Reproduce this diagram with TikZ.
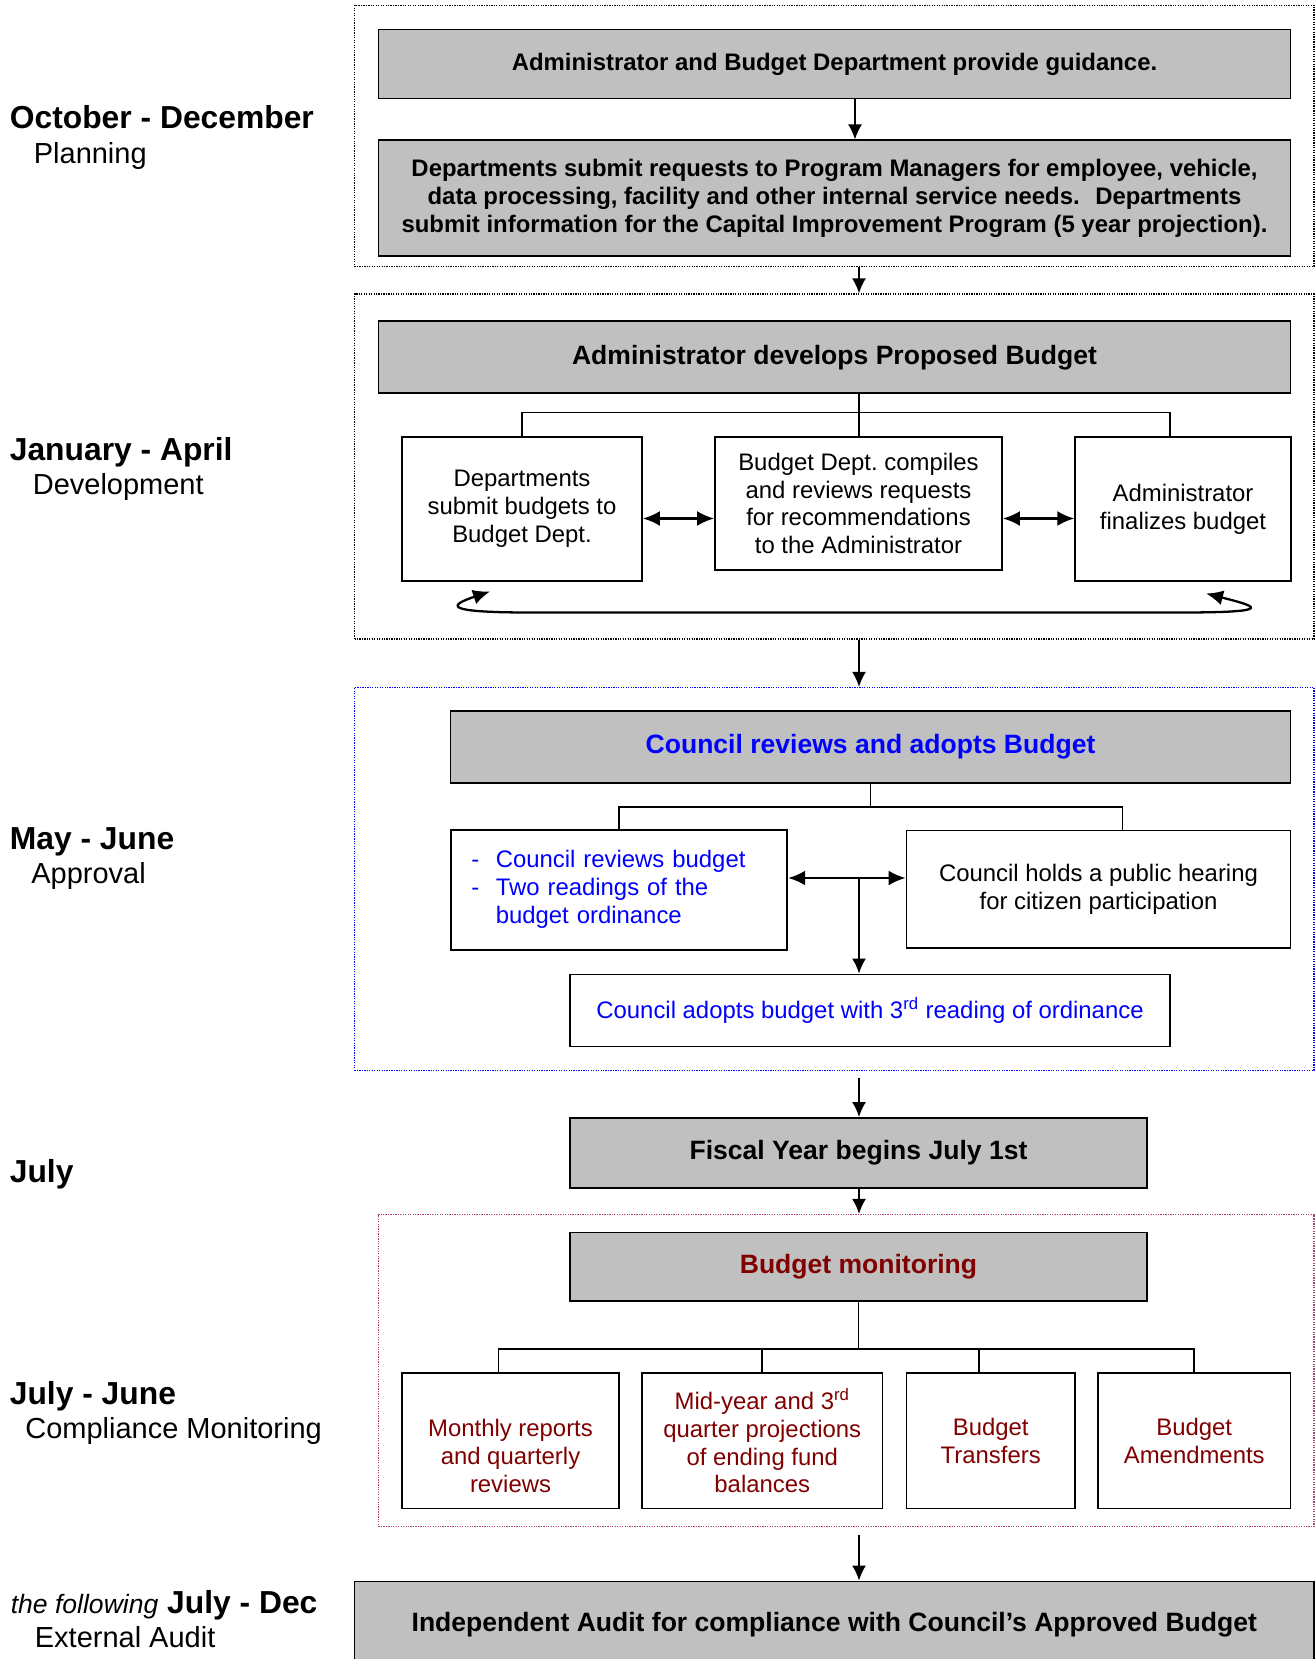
\documentclass[tikz,border=0pt]{standalone}
\usepackage{fontspec}
\setmainfont{Liberation Sans}
\usepackage{tikz}
\usetikzlibrary{
	positioning,
	calc,
	arrows.meta
}
\definecolor{BudgetGray}{RGB}{192,192,192}
\definecolor{BudgetBlue}{RGB}{0,0,255}
\definecolor{BudgetRed}{RGB}{128,0,0}
\definecolor{BudgetPink}{RGB}{180,60,125}
\newcommand{\boxtext}{\fontsize{13.6}{15.8}\selectfont}
\newcommand{\headtext}{\bfseries\fontsize{15.1}{18}\selectfont}

\tikzset{
	graybox/.style={draw, line width=1.1pt, fill=BudgetGray, align=center, inner sep=0pt},
	whitebox/.style={draw, line width=1.1pt, fill=white, align=center, inner sep=0pt, font=\boxtext},
	frame/.style={draw, line width=0.7pt, dash pattern=on 0.7pt off 0.7pt, inner sep=0pt},
	flow/.style={-{Latex[length=0.3cm,width=0.28cm]}, line width=1pt},
	twoway/.style={{Latex[length=0.34cm,width=0.3cm]}-{Latex[length=0.34cm,width=0.3cm]}, line width=1.3pt},
	branch/.style={line width=0.9pt},
	period/.style={anchor=base west, inner sep=0pt, font=\bfseries\fontsize{18.1}{21}\selectfont},
	phase/.style={anchor=base west, inner sep=0pt, font=\fontsize{16.5}{19}\selectfont}
}

\begin{document}
\begin{tikzpicture}
				
				\path[use as bounding box, fill=white] (0,0) rectangle (26.30,-33.18);
				\coordinate (SPINE) at (17.18,0);
				
				% periods on the left
				\node[period] (OCTDEC) at (0.19,-2.566) {October - December};
				\node[phase, below=0.70cm of OCTDEC.base west, anchor=base west, xshift=0.48cm] (PLANNING) {Planning};
				
				\node[period] (JANAPR) at (0.19,-9.20) {January - April};
				\node[phase, below=0.69cm of JANAPR.base west, anchor=base west, xshift=0.46cm] (DEVEL) {Development};
				
				\node[period] (MAYJUN) at (0.19,-16.99) {May - June};
				\node[phase, below=0.68cm of MAYJUN.base west, anchor=base west, xshift=0.43cm] (APPROV) {Approval};
				
				\node[period] (JULY) at (0.19,-23.65) {July};
				
				\node[period] (JULJUN) at (0.19,-28.08) {July - June};
				\node[phase, below=0.69cm of JULJUN.base west, anchor=base west, xshift=0.31cm] (COMPL) {Compliance Monitoring};
				
				\node[period] (FOLLOW) at (0.21,-32.27) {{\mdseries\itshape\fontsize{15.1}{18}\selectfont the following} July - Dec};
				\node[phase, below=0.68cm of FOLLOW.base west, anchor=base west, xshift=0.48cm] (EXTAUD) {External Audit};
				
				% dotted frames
				\node[frame, minimum width=19.19cm, minimum height=5.22cm] (PLANFRAME) at (16.685,-2.72) {};
				\node[frame, minimum width=19.19cm, minimum height=6.90cm] (DEVFRAME) at (16.685,-9.33) {};
				\node[frame, draw=BudgetBlue, minimum width=19.19cm, minimum height=7.66cm] (APPFRAME) at (16.685,-17.58) {};
				\node[frame, draw=BudgetPink, minimum width=18.71cm, minimum height=6.24cm] (MONFRAME) at (16.925,-27.41) {};
				
				% planning
				\node[
				graybox,
				minimum width=18.24cm,
				minimum height=1.38cm,
				font=\bfseries\boxtext
				]
				(GUIDE) at (16.69,-1.28)
				{Administrator and Budget Department provide guidance.};
				
				\node[
				graybox,
				minimum width=18.24cm,
				minimum height=2.31cm,
				font=\bfseries\boxtext,
				below=0.80cm of GUIDE
				]
				(REQUESTS)
				{Departments submit requests to Program Managers for employee, vehicle,\\
				data processing, facility and other internal service needs.~ Departments\\
				submit information for the Capital Improvement Program (5 year projection).};
				
				% development
				\node[
				graybox,
				minimum width=18.24cm,
				minimum height=1.44cm,
				font=\headtext,
				below=1.27cm of REQUESTS
				]
				(PROPOSED)
				{Administrator develops Proposed Budget};
				
				\node[whitebox, minimum width=4.80cm, minimum height=2.88cm] (SUBMIT) at (10.44,-10.18)
				{Departments\\submit budgets to\\Budget Dept.};
				\node[whitebox, minimum width=5.74cm, minimum height=2.66cm] (COMPILE) at (17.17,-10.07)
				{Budget Dept.\ compiles\\and reviews requests\\for recommendations\\to the Administrator};
				\node[whitebox, minimum width=4.31cm, minimum height=2.88cm] (FINAL) at (23.66,-10.18)
				{Administrator\\finalizes budget};
				
				% approval
				\node[
				graybox,
				minimum width=16.80cm,
				minimum height=1.44cm,
				font=\headtext,
				text=BudgetBlue
				]
				(COUNCIL) at (17.41,-14.94)
				{Council reviews and adopts Budget};
				
				\node[whitebox, align=left, text=BudgetBlue, text width=5.91cm, inner xsep=0.41cm, minimum height=2.39cm] (CREVIEW) at (12.38,-17.80)
				{\raisebox{0.08cm}{\begin{tabular}{@{}p{0.49cm}@{}l@{}}-&Council reviews budget\\-&Two readings of the\\&budget ordinance\end{tabular}}};
				\node[whitebox, minimum width=7.68cm, minimum height=2.35cm] (HEARING) at (21.97,-17.785)
				{Council holds a public hearing\\for citizen participation};
				\node[whitebox, text=BudgetBlue, minimum width=12.0cm, minimum height=1.44cm] (ADOPT) at (17.40,-20.21)
				{Council adopts budget with 3\textsuperscript{rd} reading of ordinance};
				
				% fiscal year
				\node[graybox, minimum width=11.54cm, minimum height=1.40cm, font=\headtext] (FISCAL) at (17.17,-23.06)
				{Fiscal Year begins July 1st};
				
				% monitoring
				\node[graybox, minimum width=11.54cm, minimum height=1.37cm, font=\headtext, text=BudgetRed] (MONITOR) at (17.17,-25.335)
				{Budget monitoring};
				
				\node[whitebox, text=BudgetRed, minimum width=4.34cm, minimum height=2.71cm] (MONTHLY) at (10.21,-28.815)
				{\strut\\Monthly reports\\and quarterly\\reviews};
				\node[whitebox, text=BudgetRed, minimum width=4.81cm, minimum height=2.71cm] (MIDYEAR) at (15.245,-28.815)
				{Mid-year and 3\textsuperscript{rd}\\quarter projections\\of ending fund\\balances};
				\node[whitebox, text=BudgetRed, minimum width=3.37cm, minimum height=2.71cm] (TRANSFER) at (19.815,-28.815)
				{Budget\\Transfers};
				\node[whitebox, text=BudgetRed, minimum width=3.85cm, minimum height=2.71cm] (AMEND) at (23.885,-28.815)
				{Budget\\Amendments};
				
				% audit
				\node[graybox, minimum width=19.19cm, minimum height=1.74cm, font=\headtext] (AUDIT) at (16.685,-32.50)
				{Independent Audit for compliance with Council’s Approved Budget};
				
				% connectors
				\draw[flow] ([xshift=-0.08cm]GUIDE.south -| SPINE) -- ([xshift=-0.08cm]REQUESTS.north -| SPINE);
				\draw[flow] (PLANFRAME.south -| SPINE) -- (DEVFRAME.north -| SPINE);
				\draw[flow] (DEVFRAME.south -| SPINE) -- (APPFRAME.north -| SPINE);
				\draw[flow, shorten <=0.13cm] (APPFRAME.south -| SPINE) -- (FISCAL.north -| SPINE);
				\draw[flow] (FISCAL.south -| SPINE) -- (MONFRAME.north -| SPINE);
				\draw[flow, shorten <=0.15cm] (MONFRAME.south -| SPINE) -- (AUDIT.north -| SPINE);
				
				\coordinate (BJOIN) at (17.18,-8.25);
				\coordinate (BROW) at (17.18,-10.37);
				\draw[branch] (PROPOSED.south -| SPINE) -- (COMPILE.north -| SPINE);
				\draw[branch] (SUBMIT.north) |- (BJOIN) -| ([xshift=-0.26cm]FINAL.north);
				\draw[twoway] (SUBMIT.east |- BROW) -- (COMPILE.west |- BROW);
				\draw[twoway] (COMPILE.east |- BROW) -- (FINAL.west |- BROW);
				
				\coordinate (LOOPL) at ([xshift=-0.64cm,yshift=-0.19cm]SUBMIT.south);
				\coordinate (LOOPR) at ([xshift=0.46cm,yshift=-0.23cm]FINAL.south);
				\draw[twoway] (LOOPL) .. controls (9.0,-12.10) and (8.8,-12.25) .. (10.6,-12.25)
				-- (23.6,-12.25) .. controls (25.6,-12.25) and (25.1,-12.12) .. (LOOPR);
				
				\coordinate (CJOIN) at (17.41,-16.14);
				\coordinate (CMID) at (17.18,-17.56);
				\draw[branch] (COUNCIL.south) -- (CJOIN);
				\draw[branch] (CREVIEW.north) |- (CJOIN) -| ([xshift=0.48cm]HEARING.north);
				\draw[twoway] (CREVIEW.east |- CMID) -- (HEARING.west |- CMID);
				\draw[flow] (CMID) -- (ADOPT.north -| CMID);
				
				\coordinate (EJOIN) at (17.17,-26.98);
				\draw[branch] (MONITOR.south) -- (EJOIN);
				\draw[branch] ([xshift=-0.24cm]MONTHLY.north) |- (EJOIN) -| (AMEND.north);
				\draw[branch] (MIDYEAR.north) |- (EJOIN);
				\draw[branch] ([xshift=-0.24cm]TRANSFER.north) |- (EJOIN);
				
			\end{tikzpicture}
\end{document}
